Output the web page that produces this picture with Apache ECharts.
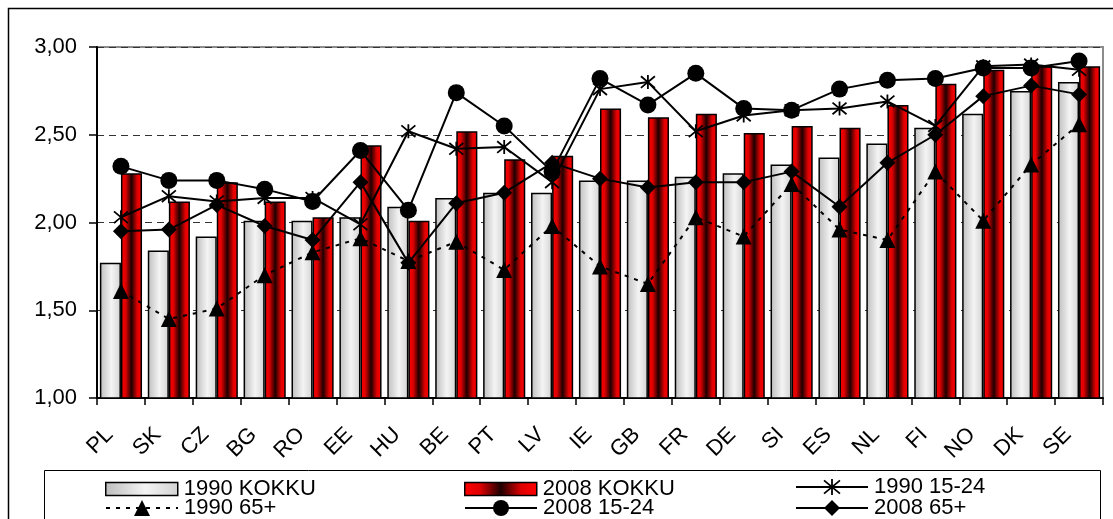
<!DOCTYPE html>
<html>
<head>
<meta charset="utf-8">
<script src="https://cdn.jsdelivr.net/npm/echarts@6/dist/echarts.min.js"></script>
<style>html,body{margin:0;padding:0;background:#fff;}#c{width:1113px;height:519px;}</style>
</head>
<body>
<div id="c"></div>
<script>
const categories = ['PL','SK','CZ','BG','RO','EE','HU','BE','PT','LV','IE','GB','FR','DE','SI','ES','NL','FI','NO','DK','SE'];
const kokku1990 = [1.77,1.84,1.92,2.01,2.01,2.03,2.09,2.14,2.17,2.17,2.24,2.24,2.26,2.28,2.33,2.37,2.45,2.54,2.62,2.75,2.80];
const kokku2008 = [2.28,2.12,2.23,2.12,2.03,2.44,2.01,2.52,2.36,2.38,2.65,2.60,2.62,2.51,2.55,2.54,2.67,2.79,2.87,2.89,2.89];
const y1990_1524 = [2.03,2.15,2.12,2.14,2.14,1.99,2.52,2.42,2.43,2.23,2.76,2.80,2.52,2.61,2.64,2.65,2.69,2.55,2.89,2.90,2.87];
const y1990_65 = [1.61,1.45,1.51,1.70,1.83,1.91,1.78,1.89,1.73,1.98,1.75,1.65,2.03,1.92,2.22,1.96,1.90,2.29,2.01,2.33,2.56];
const y2008_1524 = [2.32,2.24,2.24,2.19,2.12,2.41,2.07,2.74,2.55,2.29,2.82,2.67,2.85,2.65,2.64,2.76,2.81,2.82,2.88,2.88,2.92];
const y2008_65 = [1.95,1.96,2.10,1.98,1.90,2.23,1.77,2.11,2.17,2.34,2.25,2.20,2.23,2.23,2.29,2.09,2.34,2.50,2.72,2.78,2.73];
const names = ['1990 KOKKU','2008 KOKKU','1990 15-24','1990 65+','2008 15-24','2008 65+'];

const FONT = "'Liberation Sans', Arial, sans-serif";
const chart = echarts.init(document.getElementById('c'), null, {renderer:'canvas'});

const grayGrad = new echarts.graphic.LinearGradient(0,0,1,0,[
  {offset:0,color:'#bdbdbd'},{offset:0.55,color:'#f4f4f4'},{offset:1,color:'#d2d2d2'}]);
const redGrad = new echarts.graphic.LinearGradient(0,0,1,0,[
  {offset:0,color:'#ff0000'},{offset:0.22,color:'#e00000'},{offset:0.5,color:'#1e0000'},{offset:0.78,color:'#e00000'},{offset:1,color:'#ff0000'}]);

const asterisk = 'path://M0,0L10,10M10,0L0,10M5,-1L5,11';

function lineSeries(name, data, symbol, size, dashed) {
  return {
    name, type:'line', data, symbol, symbolSize:size, z:5,
    lineStyle:{color:'#000', width:2, type: dashed ? [4,6] : 'solid'},
    itemStyle:{color:'#000', borderColor:'#000', borderWidth: symbol===asterisk ? 1.8 : 0},
    emphasis:{disabled:true}
  };
}

function leg(name, left, top, isBar, isStar) {
  const o = {data:[name], left, top, padding:0, orient:'horizontal', itemWidth:72,
    itemHeight: isBar ? 13 : 20, selectedMode:false,
    textStyle:{fontFamily:FONT, fontSize:22, color:'#000', padding:[0,0,0,1]}};
  if (isBar) { o.icon = 'rect'; o.itemStyle = {borderColor:'#000', borderWidth:1.5}; }
  if (isStar) { o.itemStyle = {borderColor:'#000', borderWidth:1.8}; }
  return o;
}

const option = {
  animation:false,
  backgroundColor:'#fff',
  textStyle:{fontFamily:FONT},
  grid:{left:97, right:10, top:47, bottom:121, show:true, borderColor:'#8c8c8c', borderWidth:2, backgroundColor:'transparent'},
  legend:[
    leg(names[0], 105, 478, true),
    leg(names[1], 464, 478, true),
    leg(names[2], 795, 476, false, true),
    leg(names[3], 105, 497, false),
    leg(names[4], 464, 497, false),
    leg(names[5], 795, 497, false)
  ],
  xAxis:{
    type:'category', data:categories,
    axisLine:{lineStyle:{color:'#000', width:2}},
    axisTick:{show:true, length:7, lineStyle:{color:'#000', width:1.5}},
    axisLabel:{rotate:45, margin:22, fontSize:22, color:'#000', fontFamily:FONT, interval:0, padding:[0,16,0,0]}
  },
  yAxis:{
    type:'value', min:1, max:3, interval:0.5,
    axisLine:{show:true, lineStyle:{color:'#000', width:2}},
    axisTick:{show:true, length:8, lineStyle:{color:'#000', width:1.5}},
    axisLabel:{fontSize:22, color:'#000', fontFamily:FONT, margin:20,
      formatter: v => v.toFixed(2).replace('.', ',')},
    splitLine:{show:true, lineStyle:{color:'#333', width:1, type:[7,5]}}
  },
  series:[
    {name:names[0], type:'bar', data:kokku1990, barGap:'0%', barCategoryGap:'12%',
      itemStyle:{color:grayGrad, borderColor:'#000', borderWidth:1.5}, emphasis:{disabled:true}},
    {name:names[1], type:'bar', data:kokku2008,
      itemStyle:{color:redGrad, borderColor:'#000', borderWidth:1.5}, emphasis:{disabled:true}},
    lineSeries(names[2], y1990_1524, asterisk, 14, false),
    lineSeries(names[3], y1990_65, 'triangle', 16, true),
    lineSeries(names[4], y2008_1524, 'circle', 17, false),
    lineSeries(names[5], y2008_65, 'diamond', 16, false)
  ],
  graphic:[
    {type:'rect', z:-1, silent:true, shape:{x:8.5, y:8.5, width:1130, height:530},
      style:{fill:'none', stroke:'#000', lineWidth:1.5}},
    {type:'rect', z:-1, silent:true, shape:{x:44.5, y:470.5, width:1056, height:60},
      style:{fill:'none', stroke:'#000', lineWidth:1}}
  ]
};
chart.setOption(option);
</script>
</body>
</html>
